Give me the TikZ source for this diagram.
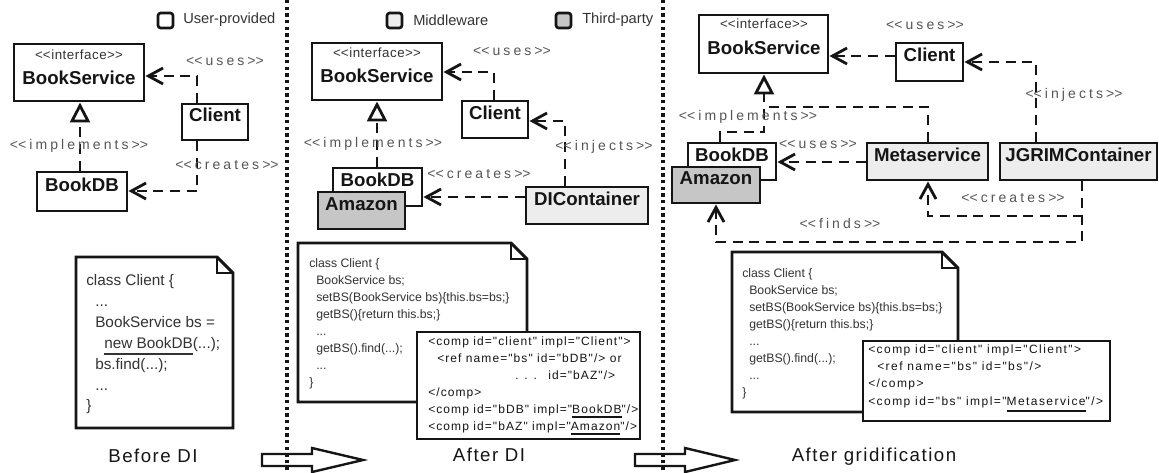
\documentclass[tikz,border=0pt]{standalone}
\usepackage{fontspec}
\setmainfont{Liberation Sans}
\newfontfamily\lblfont[LetterSpace=22]{Liberation Sans}
\newfontfamily\ifcfont[LetterSpace=4]{Liberation Sans}
\newfontfamily\capfont[LetterSpace=8]{Liberation Sans}
\newfontfamily\xmlfont[LetterSpace=12]{Liberation Sans}
\newfontfamily\xmlfontb[LetterSpace=9]{Liberation Sans}
\newfontfamily\codefont{Liberation Sans}
\usetikzlibrary{arrows.meta,fit}
\definecolor{lblgray}{HTML}{555555}
\definecolor{codegray}{HTML}{333333}
\definecolor{mwfill}{HTML}{EDEDED}
\definecolor{tpfill}{HTML}{C6C6C6}
\definecolor{ink}{HTML}{151515}
\newcommand{\stereotype}[1]{<\kern0pt<#1>\kern0pt>}
\newcommand{\thul}[2][3.9pt]{\setbox0=\hbox{#2}\rlap{\rule[-#1]{\wd0}{1.5pt}}\box0}
\newcommand{\notebox}[5]{%
  \draw[notestyle] (#1,#2) -- (#3-#5,#2) -- (#3,#2+#5) -- (#3,#4) -- (#1,#4) -- cycle;
  \draw[line width=0.9pt, draw=ink] (#3-#5,#2) -- (#3-#5,#2+#5) -- (#3,#2+#5);
}
\begin{document}
\begin{tikzpicture}[x=0.75pt,y=-0.75pt,
  cls/.style={draw=ink, line width=2.2pt, fill=white, inner sep=0pt, text=ink,
    font=\fontsize{14}{16}\selectfont\bfseries},
  mw/.style={cls, fill=mwfill},
  tp/.style={cls, fill=tpfill},
  clsname/.style={inner sep=0pt, text=ink, font=\fontsize{14}{16}\selectfont\bfseries},
  stereo/.style={inner sep=0pt, text=lblgray, font=\lblfont\fontsize{10.5}{12}\selectfont},
  ifc/.style={inner sep=0pt, text=codegray, font=\ifcfont\fontsize{10}{12}\selectfont},
  legendbox/.style={draw=ink, line width=2pt, rounded corners=2pt, inner sep=0pt},
  legendtxt/.style={inner sep=0pt, anchor=west, text=codegray, font=\codefont\fontsize{11}{13}\selectfont},
  dep/.style={draw=ink, line width=2.1pt, dash pattern=on 7.5pt off 5pt,
    -{Straight Barb[length=11pt,width=12pt]}},
  depline/.style={draw=ink, line width=2.1pt, dash pattern=on 7.5pt off 5pt},
  realizes/.style={draw=ink, line width=2.1pt, dash pattern=on 7.5pt off 5pt,
    -{Triangle[length=15pt,width=15pt,fill=white]}},
  notestyle/.style={draw=ink, line width=2.2pt, fill=white, line join=miter},
  code/.style={inner sep=0pt, anchor=base west, text=codegray, font=\codefont\fontsize{9.2}{11}\selectfont},
  bigcode/.style={inner sep=0pt, anchor=base west, text=codegray, font=\codefont\fontsize{11.5}{13}\selectfont},
  xml/.style={inner sep=0pt, anchor=base west, text=ink, font=\xmlfont\fontsize{9}{11}\selectfont},
  xmlb/.style={xml, font=\xmlfontb\fontsize{9}{11}\selectfont},
  xmlbox/.style={draw=ink, line width=2.2pt, fill=white, inner sep=0pt},
  caption/.style={inner sep=0pt, text=ink, font=\capfont\fontsize{14}{16}\selectfont},
  separator/.style={draw=ink, line width=2.4pt, dash pattern=on 2.4pt off 2.6pt},
  bigarrow/.style={draw=ink, line width=1.8pt, line join=miter}
]
\useasboundingbox (0,0) rectangle (1159,472);

% ---------------- separators ----------------
\draw[separator] (287,0) -- (287,472);
\draw[separator] (663,0) -- (663,472);

% ---------------- legend ----------------
\node[legendbox, fill=white, fit={(158,13) (173,28)}] (lg1) {};
\node[legendtxt] (lg1t) at (183,20) {User-provided};
\node[legendbox, fill=mwfill, fit={(387,13) (402,28)}] (lg2) {};
\node[legendtxt] (lg2t) at (413,20) {Middleware};
\node[legendbox, fill=tpfill, fit={(556,13) (571,28)}] (lg3) {};
\node[legendtxt] (lg3t) at (582,20) {Third-party};

% ================= LEFT PANEL: Before DI =================
\node[cls, fit={(14,44) (144,101)}] (bs1) {};
\node[ifc] (bs1s) at (79,55) {\stereotype{interface}};
\node[clsname] (bs1n) at (79,78) {BookService};
\node[cls, fit={(182,104) (248,140)}] (cl1) {Client};
\node[cls, fit={(37,172) (127,211)}] (db1) {BookDB};

\draw[realizes] (db1.north -| 80,0) -- (bs1.south -| 80,0);
\draw[dep] (cl1.north -| 197,0) |- (bs1.east |- 0,76);
\draw[dep] (cl1.south -| 197,0) |- (db1.east |- 0,191);
\node[stereo] (l1impl) at (79,146) {\stereotype{implements}};
\node[stereo] (l1uses) at (225,61) {\stereotype{uses}};
\node[stereo] (l1crea) at (227,165) {\stereotype{creates}};

\notebox{76}{257}{233}{428}{16}
\node[bigcode] (c1a) at (86,285) {class Client \{};
\node[bigcode] (c1b) at (95,306) {...};
\node[bigcode] (c1c) at (95,327) {BookService bs =};
\node[bigcode] (c1d) at (104,348) {\thul[5.2pt]{new BookDB}(...);};
\node[bigcode] (c1e) at (95,369) {bs.find(...);};
\node[bigcode] (c1f) at (95,390) {...};
\node[bigcode] (c1g) at (86,410) {\}};
\node[caption] (cap1) at (153,456) {Before DI};

% ================= MIDDLE PANEL: After DI =================
\node[cls, fit={(312,43) (442,100)}] (bs2) {};
\node[ifc] (bs2s) at (377,53) {\stereotype{interface}};
\node[clsname] (bs2n) at (377,76) {BookService};
\node[cls, fit={(462,101) (528,138)}] (cl2) {Client};
\node[cls, fit={(333,168) (422,206)}] (db2) {BookDB};
\node[tp, fit={(318,192) (405,229)}] (am2) {Amazon};
\node[mw, fit={(526,187) (648,224)}] (dc2) {DIContainer};

\draw[realizes] (db2.north -| 377,0) -- (bs2.south -| 377,0);
\draw[dep] (cl2.north -| 494,0) |- (bs2.east |- 0,72);
\draw[dep] (dc2.north -| 565,0) |- (cl2.east |- 0,121);
\draw[dep] (dc2.west |- 0,197) -- (db2.east |- 0,197);
\node[stereo] (l2impl) at (373,144) {\stereotype{implements}};
\node[stereo] (l2uses) at (512,51) {\stereotype{uses}};
\node[stereo] (l2inj) at (604,147) {\stereotype{injects}};
\node[stereo] (l2crea) at (479,174) {\stereotype{creates}};

\notebox{298}{243}{527}{402}{16}
\node[code] (c2a) at (309,267) {class Client \{};
\node[code] (c2b) at (316,284) {BookService bs;};
\node[code] (c2c) at (316,301) {setBS(BookService bs)\{this.bs=bs;\}};
\node[code] (c2d) at (316,318) {getBS()\{return this.bs;\}};
\node[code] (c2e) at (316,335) {...};
\node[code] (c2f) at (316,352) {getBS().find(...);};
\node[code] (c2g) at (316,369) {...};
\node[code] (c2h) at (309,386) {\}};

\node[xmlbox, fit={(417,332) (640,439)}] (xml2) {};
\node[xmlb] (x2a) at (428,345) {<comp id="client" impl="Client">};
\node[xmlb] (x2b) at (437,362) {<ref name="bs" id="bDB"/> or};
\node[xmlb] (x2c) at (515,379) {. . .};
\node[xmlb] (x2d) at (548,379) {id="bAZ"/>};
\node[xmlb] (x2e) at (428,396) {</comp>};
\node[xmlb] (x2f) at (428,413) {<comp id="bDB" impl="\thul{BookDB}"/>};
\node[xmlb] (x2g) at (428,430) {<comp id="bAZ" impl="\thul{Amazon}"/>};
\node[caption] (cap2) at (489,455) {After DI};

% ================= RIGHT PANEL: After gridification =================
\node[cls, fit={(699,15) (828,73)}] (bs3) {};
\node[ifc] (bs3s) at (764,24) {\stereotype{interface}};
\node[clsname] (bs3n) at (764,48) {BookService};
\node[cls, fit={(896,43) (963,81)}] (cl3) {Client};
\node[cls, fit={(688,143) (776,180)}] (db3) {BookDB};
\node[tp, fit={(672,167) (760,203)}] (am3) {Amazon};
\node[mw, fit={(867,143) (988,180)}] (ms3) {Metaservice};
\node[mw, fit={(1000,143) (1157,180)}] (jg3) {JGRIMContainer};

\draw[realizes] (db3.north -| 720,0) |- (764,132) -- (bs3.south -| 764,0);
\draw[depline] (ms3.north -| 928,0) |- (764,107);
\draw[dep] (cl3.west |- 0,56) -- (bs3.east |- 0,56);
\draw[dep] (jg3.north -| 1036,0) |- (cl3.east |- 0,62);
\draw[dep] (ms3.west |- 0,162) -- (db3.east |- 0,162);
\draw[dep] (jg3.south -| 1082,0) |- (928,216) -- (ms3.south -| 928,0);
\draw[dep] (jg3.south -| 1082,0) |- (716,242) -- (am3.south -| 716,0);
\node[stereo] (l3uses) at (925,25) {\stereotype{uses}};
\node[stereo] (l3inj) at (1074,95) {\stereotype{injects}};
\node[stereo] (l3impl) at (748,117) {\stereotype{implements}};
\node[stereo] (l3uses2) at (818,144) {\stereotype{uses}};
\node[stereo] (l3crea) at (1013,198) {\stereotype{creates}};
\node[stereo] (l3find) at (840,223) {\stereotype{finds}};

\notebox{732}{252}{958}{412}{16}
\node[code] (c3a) at (742,277) {class Client \{};
\node[code] (c3b) at (749,294) {BookService bs;};
\node[code] (c3c) at (749,311) {setBS(BookService bs)\{this.bs=bs;\}};
\node[code] (c3d) at (749,328) {getBS()\{return this.bs;\}};
\node[code] (c3e) at (749,345) {...};
\node[code] (c3f) at (749,362) {getBS().find(...);};
\node[code] (c3g) at (749,379) {...};
\node[code] (c3h) at (742,396) {\}};

\node[xmlbox, fit={(863,341) (1110,421)}] (xml3) {};
\node[xml] (x3a) at (868,353.5) {<comp id="client" impl="Client">};
\node[xml] (x3b) at (877,370.5) {<ref name="bs" id="bs"/>};
\node[xml] (x3c) at (868,387.5) {</comp>};
\node[xml] (x3d) at (868,405.5) {<comp id="bs" impl="\thul[4.8pt]{Metaservice}"/>};
\node[caption] (cap3) at (874,457) {After gridification};

% ---------------- transition arrows ----------------
\draw[bigarrow] (262,454) -- (312,454) -- (312,448) -- (363,460) -- (312,472) -- (312,466) -- (262,466) -- cycle;
\draw[bigarrow] (635,454) -- (685,454) -- (685,448) -- (735,460) -- (685,472) -- (685,466) -- (635,466) -- cycle;
\end{tikzpicture}
\end{document}
